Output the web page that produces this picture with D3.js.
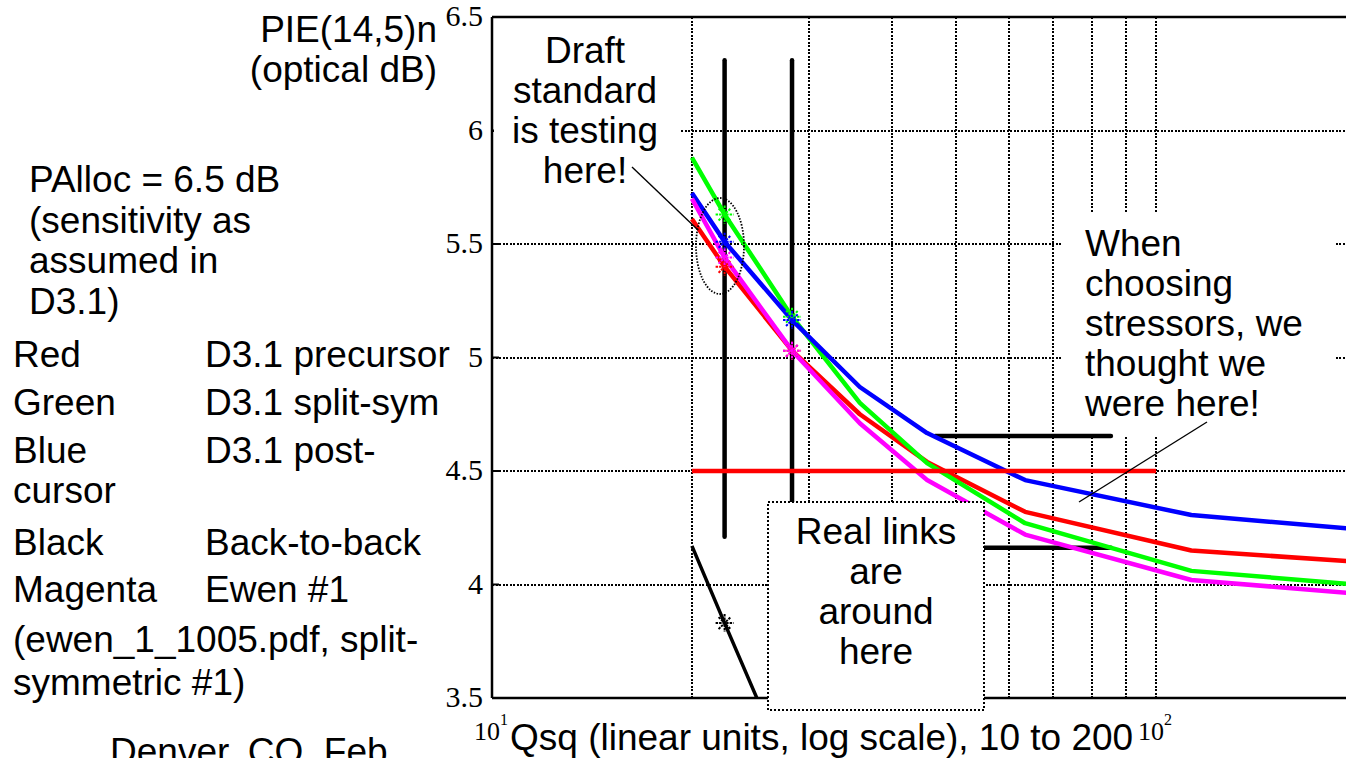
<!DOCTYPE html>
<html>
<head>
<meta charset="utf-8">
<script src="https://cdn.jsdelivr.net/npm/d3@7/dist/d3.min.js"></script>
<style>
  body { margin: 0; background: #fff; }
  svg { display: block; }
  .sans { font-family: "Liberation Sans", Arial, sans-serif; fill: #000; }
</style>
</head>
<body>
<svg id="chart" width="1346" height="758"></svg>
<script>
// Qsq sample points (linear units) shared by the four coloured traces
const qPoints = [20, 22.4, 28.3, 35.8, 45.2, 63.5, 113, 200];
const redVals = [5.61, 5.40, 5.03, 4.75, 4.54, 4.32, 4.15, 4.10];
const greenVals = [5.88, 5.63, 5.18, 4.80, 4.535, 4.27, 4.06, 4.0];
const blueVals = [5.725, 5.51, 5.165, 4.87, 4.667, 4.46, 4.306, 4.244];
const magentaVals = [5.70, 5.44, 5.03, 4.71, 4.46, 4.22, 4.02, 3.96];

// back-to-back trace (runs off the bottom of the plot)
const b2bQ = [20, 22.4, 28.3];
const b2bVals = [4.17, 3.83, 3.14];

// points marked with an asterisk
const markerQ = [22.4, 28.3];

// stressor lines drawn on top
const stressQ = [22.4, 28.3];
const stressRange = [6.31, 4.21];
const targetQ = [46.5, 85.5];
const targetLevels = [4.654, 4.162];
const allocQ = [20, 100];
const allocLevel = 4.5;

const yTicks = [3.5, 4, 4.5, 5, 5.5, 6, 6.5];
const xGrid = [20, 30, 40, 50, 60, 70, 80, 90, 100];
const xDecades = [10, 100];

const svg = d3.select("#chart");
const x = d3.scaleLog().domain([10, 200]).range([492, 1356]);
const y = d3.scaleLinear().domain([3.5, 6.5]).range([698, 17]);

const dotted = "2,1.5";
const FS = 37;
const SERIF = "Liberation Serif, serif";

// grid
svg.append("g")
  .attr("shape-rendering", "crispEdges")
  .selectAll("line")
  .data(yTicks.filter((d) => d > 3.5 && d < 6.5))
  .join("line")
  .attr("x1", x(10)).attr("x2", 1346)
  .attr("y1", (d) => y(d)).attr("y2", (d) => y(d))
  .attr("stroke", "#000").attr("stroke-width", 2)
  .attr("stroke-dasharray", dotted);

svg.append("g")
  .attr("shape-rendering", "crispEdges")
  .selectAll("line")
  .data(xGrid)
  .join("line")
  .attr("x1", (d) => x(d)).attr("x2", (d) => x(d))
  .attr("y1", y(6.5)).attr("y2", y(3.5))
  .attr("stroke", "#000").attr("stroke-width", 2)
  .attr("stroke-dasharray", dotted);

// frame
const frame = svg.append("g").attr("stroke", "#000").attr("stroke-width", 2.5);
frame.append("line").attr("x1", x(10)).attr("x2", 1346).attr("y1", y(6.5)).attr("y2", y(6.5));
frame.append("line").attr("x1", x(10)).attr("x2", 1346).attr("y1", y(3.5)).attr("y2", y(3.5));
frame.append("line").attr("x1", x(10)).attr("x2", x(10)).attr("y1", y(6.5)).attr("y2", y(3.5));

// small inward ticks on the left axis
svg.append("g")
  .selectAll("line")
  .data(yTicks)
  .join("line")
  .attr("x1", x(10)).attr("x2", x(10) + 7)
  .attr("y1", (d) => y(d)).attr("y2", (d) => y(d))
  .attr("stroke", "#000").attr("stroke-width", 2);

// y tick labels
svg.append("g")
  .selectAll("text")
  .data(yTicks)
  .join("text")
  .attr("x", 483)
  .attr("y", (d) => y(d) + 9)
  .attr("text-anchor", "end")
  .attr("font-family", SERIF)
  .attr("font-size", 30)
  .text((d) => String(d));

// x decade labels with superscripts
const xl = svg.append("g")
  .selectAll("g")
  .data(xDecades)
  .join("g")
  .attr("transform", (d) => `translate(${x(d) - 18},740)`);
xl.append("text")
  .attr("font-family", SERIF)
  .attr("font-size", 26)
  .text("10");
xl.append("text")
  .attr("font-family", SERIF)
  .attr("x", 26).attr("y", -15)
  .attr("font-size", 16)
  .text((d) => Math.log10(d));

// white boxes of the text call-outs hide the grid behind them
svg.append("rect").attr("x", 494).attr("y", 19).attr("width", 186).attr("height", 183).attr("fill", "#fff");
svg.append("rect").attr("x", 1063).attr("y", 213).attr("width", 273).attr("height", 223).attr("fill", "#fff");

const plot = svg.append("g").attr("clip-path", "url(#plotClip)");
svg.append("clipPath").attr("id", "plotClip")
  .append("rect")
  .attr("x", x(10)).attr("y", y(6.5))
  .attr("width", x(200) - x(10)).attr("height", y(3.5) - y(6.5));

const line = d3.line().x((d) => x(d[0])).y((d) => y(d[1]));

const traces = [
  { vals: redVals, color: "#ff0000" },
  { vals: greenVals, color: "#00ff00" },
  { vals: blueVals, color: "#0000ff" },
  { vals: magentaVals, color: "#ff00ff" },
];

// stressor verticals
plot.append("g")
  .selectAll("line")
  .data(stressQ)
  .join("line")
  .attr("x1", (d) => x(d)).attr("x2", (d) => x(d))
  .attr("y1", y(stressRange[0])).attr("y2", y(stressRange[1]))
  .attr("stroke", "#000").attr("stroke-width", 4.5)
  .attr("stroke-linecap", "round");

// target horizontals
plot.append("g")
  .selectAll("line")
  .data(targetLevels)
  .join("line")
  .attr("x1", x(targetQ[0])).attr("x2", x(targetQ[1]))
  .attr("y1", (d) => y(d)).attr("y2", (d) => y(d))
  .attr("stroke", "#000").attr("stroke-width", 4.5)
  .attr("stroke-linecap", "round");

traces.forEach((t) => {
  plot.append("path")
    .datum(qPoints.map((q, i) => [q, t.vals[i]]))
    .attr("d", line)
    .attr("fill", "none")
    .attr("stroke", t.color)
    .attr("stroke-width", 4.5)
    .attr("stroke-linejoin", "round");
});

plot.append("path")
  .datum(b2bQ.map((q, i) => [q, b2bVals[i]]))
  .attr("d", line)
  .attr("fill", "none")
  .attr("stroke", "#000")
  .attr("stroke-width", 3.5);

// PAlloc line
plot.append("line")
  .attr("x1", x(allocQ[0])).attr("x2", x(allocQ[1]))
  .attr("y1", y(allocLevel)).attr("y2", y(allocLevel))
  .attr("stroke", "#ff0000").attr("stroke-width", 4.5);

// asterisk markers
function asterisk(g, cx, cy, color) {
  const r = 9;
  const segs = [[-r, 0, r, 0], [0, -r, 0, r], [-6, -6, 6, 6], [-6, 6, 6, -6]];
  g.append("g")
    .attr("transform", `translate(${cx},${cy})`)
    .selectAll("line")
    .data(segs)
    .join("line")
    .attr("x1", (s) => s[0]).attr("y1", (s) => s[1])
    .attr("x2", (s) => s[2]).attr("y2", (s) => s[3])
    .attr("stroke", color).attr("stroke-width", 2)
    .attr("stroke-dasharray", "2.5,1");
}
traces.forEach((t) => {
  markerQ.forEach((q) => {
    const i = qPoints.indexOf(q);
    asterisk(plot, x(q), y(t.vals[i]), t.color);
  });
});
asterisk(plot, x(b2bQ[1]), y(b2bVals[1]), "#000");

// dotted ellipse around the draft-standard points
svg.append("ellipse")
  .attr("cx", 720).attr("cy", 246).attr("rx", 24).attr("ry", 48)
  .attr("fill", "none").attr("stroke", "#000")
  .attr("stroke-width", 1.8).attr("stroke-dasharray", "1.5,1.5");

// "Real links" box sits over the data
svg.append("rect")
  .attr("x", 768).attr("y", 502).attr("width", 216).attr("height", 208)
  .attr("fill", "#fff").attr("stroke", "#000")
  .attr("stroke-width", 2).attr("stroke-dasharray", "2,2")
  .attr("shape-rendering", "crispEdges");

// leader lines
svg.append("line").attr("x1", 632).attr("y1", 167).attr("x2", 698).attr("y2", 230)
  .attr("stroke", "#000").attr("stroke-width", 1.4);
svg.append("line").attr("x1", 1207).attr("y1", 422).attr("x2", 1079).attr("y2", 502)
  .attr("stroke", "#000").attr("stroke-width", 1.4);

// text blocks
function block(lines, xPos, y0, anchor, step = 40) {
  svg.append("text")
    .attr("class", "sans")
    .attr("font-size", FS)
    .attr("text-anchor", anchor)
    .selectAll("tspan")
    .data(lines)
    .join("tspan")
    .attr("x", xPos)
    .attr("y", (d, i) => y0 + i * step)
    .text((d) => d);
}

block(["Draft", "standard", "is testing", "here!"], 585, 63, "middle");
block(["When", "choosing", "stressors, we", "thought we", "were here!"], 1085, 256, "start");
block(["Real links", "are", "around", "here"], 876, 544, "middle");
block(["PIE(14,5)n", "(optical dB)"], 437, 42, "end");
block(["PAlloc = 6.5 dB", "(sensitivity as", "assumed in", "D3.1)"], 29, 192, "start", 40.5);

const legendNames = ["Red", "Green", "Blue", "cursor", "Black", "Magenta"];
const legendDescs = ["D3.1 precursor", "D3.1 split-sym", "D3.1 post-", "", "Back-to-back", "Ewen #1"];
const legendY = [367, 415, 463, 503, 555, 602];
legendNames.forEach((n, i) => {
  svg.append("text").attr("class", "sans").attr("font-size", FS)
    .attr("x", 13).attr("y", legendY[i]).text(n);
  svg.append("text").attr("class", "sans").attr("font-size", FS)
    .attr("x", 205).attr("y", legendY[i]).text(legendDescs[i]);
});
block(["(ewen_1_1005.pdf, split-", "symmetric #1)"], 13, 652, "start", 43);
block(["Denver, CO, Feb"], 110, 764, "start");

// x axis title
svg.append("text").attr("class", "sans").attr("font-size", FS)
  .attr("x", 510).attr("y", 750)
  .text("Qsq (linear units, log scale), 10 to 200");
</script>
</body>
</html>
